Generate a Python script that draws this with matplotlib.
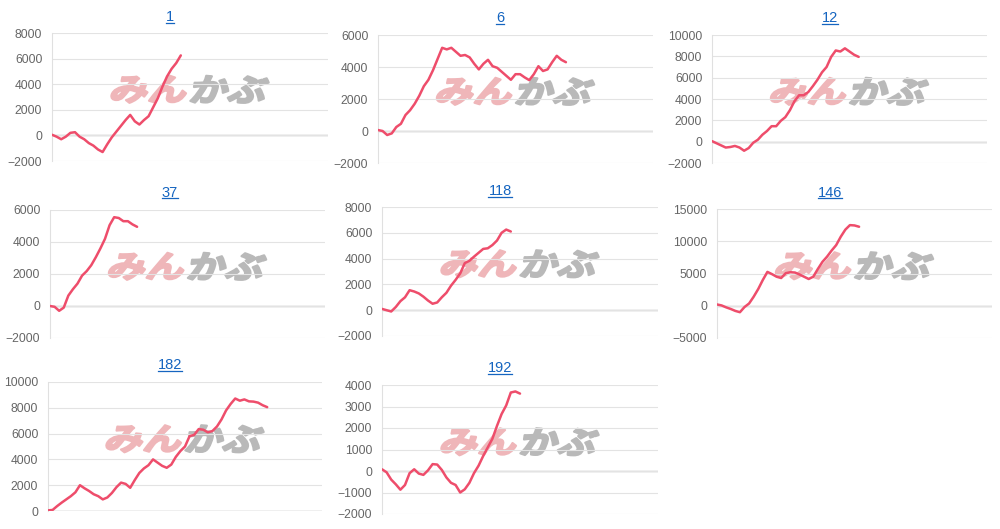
import matplotlib
matplotlib.use("Agg")
import matplotlib.pyplot as plt
from matplotlib.textpath import TextPath
from matplotlib.patches import PathPatch
from matplotlib.font_manager import FontProperties
from matplotlib.transforms import Affine2D, IdentityTransform
from matplotlib.lines import Line2D

# Chart titles (ranking numbers)
titles = ["1", "6", "12", "37", "118", "146", "182", "192"]

# Cumulative profit per chart, one value per day
s1 = [50, -100, -300, -100, 200, 250, -100, -300, -600, -800, -1100, -1300, -700, -150,
      300, 750, 1200, 1600, 1100, 850, 1200, 1500, 2200, 2900, 3800, 4600, 5200, 5650, 6250]
s6 = [60, 0, -250, -150, 250, 450, 1000, 1300, 1700, 2200, 2800, 3200, 3800, 4500, 5200,
      5100, 5200, 4950, 4700, 4750, 4600, 4200, 3850, 4200, 4450, 4050, 3950, 3700, 3450,
      3200, 3550, 3550, 3350, 3180, 3550, 4050, 3750, 3850, 4300, 4700, 4450, 4300]
s12 = [50, -150, -350, -550, -500, -400, -550, -850, -600, -100, 180, 650, 1000, 1450,
       1450, 1950, 2300, 2950, 3800, 4350, 4350, 4650, 5200, 5800, 6500, 7000, 7950, 8550,
       8450, 8750, 8450, 8150, 7950]
s37 = [0, -50, -300, -100, 650, 1050, 1400, 1900, 2180, 2550, 3050, 3600, 4200, 5050,
       5550, 5500, 5300, 5300, 5100, 4950]
s118 = [100, 0, -100, 250, 700, 1000, 1550, 1450, 1300, 1050, 750, 500, 600, 1000, 1350,
        1900, 2350, 2850, 3650, 3830, 4150, 4450, 4750, 4800, 5050, 5400, 6000, 6250, 6100]
s146 = [200, 50, -250, -500, -800, -1000, -200, 350, 1400, 2600, 4000, 5250, 4900, 4500,
        4300, 5050, 5200, 5150, 4850, 4500, 4150, 4500, 5700, 6800, 7600, 8550, 9400,
        10700, 11800, 12500, 12450, 12250]
s182 = [50, 80, 380, 650, 900, 1150, 1450, 2000, 1760, 1550, 1300, 1150, 900, 1050, 1400,
        1850, 2200, 2100, 1800, 2400, 2950, 3300, 3550, 4000, 3750, 3500, 3350, 3600, 4200,
        4650, 5000, 5800, 5900, 6350, 6300, 6100, 6200, 6550, 7100, 7800, 8300, 8720, 8550,
        8650, 8500, 8480, 8400, 8200, 8050]
s192 = [80, -60, -400, -620, -870, -650, -100, 80, -120, -180, 30, 320, 300, 50, -300,
        -550, -650, -1000, -850, -550, -100, 250, 700, 1100, 1500, 2100, 2650, 3050, 3650,
        3700, 3600]
series = [s1, s6, s12, s37, s118, s146, s182, s192]

# y axis range and tick step for each chart
y_ranges = [(-2000, 8000, 2000), (-2000, 6000, 2000), (-2000, 10000, 2000),
            (-2000, 6000, 2000), (-2000, 8000, 2000), (-5000, 15000, 5000),
            (0, 10000, 2000), (-2000, 4000, 1000)]
X_DAYS = 60

# Plot boxes in pixels: left, top, right, bottom
W, H = 1000, 529
boxes = [(52, 33, 328, 161), (378, 35, 653, 163), (712, 35, 987, 163),
         (50, 210, 325, 338), (382, 207, 658, 336), (717, 209, 992, 338),
         (48, 382, 322, 511), (382, 385, 658, 514)]
title_y = [17, 18, 18, 193, 191, 193, 365, 368]

LINE_COLOR = "#ee4d6b"
TEXT_FONT = "Liberation Sans"

fig = plt.figure(figsize=(W / 100, H / 100), dpi=100)
fig.patch.set_facecolor("white")

logo_font = FontProperties(family="Noto Sans CJK JP", weight="bold")


def draw_logo(ax, cx, cy):
    # watermark: pink "みん" + gray "かぶ", slanted and heavy
    parts = [("みん", "#efb6b9", -40), ("かぶ", "#b9b9b9", 40)]
    for txt, col, dx in parts:
        tp = TextPath((0, 0), txt, size=1, prop=logo_font)
        ext = tp.get_extents()
        sx = 74 / ext.width
        sy = 27 / ext.height
        trans = (Affine2D().translate(-ext.x0 - ext.width / 2, -ext.y0 - ext.height / 2)
                 .scale(sx, sy).skew_deg(14, 0).translate(cx + dx, cy))
        patch = PathPatch(tp, facecolor=col, edgecolor=col, lw=1.6, transform=trans,
                          zorder=1.5, joinstyle="round")
        ax.add_artist(patch)


title_texts = []
for i, (vals, box, (y0, y1, step)) in enumerate(zip(series, boxes, y_ranges)):
    l, t, r, b = box
    ax = fig.add_axes([l / W, 1 - b / H, (r - l) / W, (b - t) / H])
    ax.set_facecolor("none")
    ax.plot(range(len(vals)), vals, color=LINE_COLOR, lw=1.8, zorder=3,
            solid_joinstyle="round", solid_capstyle="round")
    ax.set_xlim(0, X_DAYS)
    ax.set_ylim(y0, y1)
    ax.set_yticks(range(y0, y1 + 1, step))
    ax.set_xticks([])
    ax.grid(axis="y", color="#e3e3e3", lw=0.8, zorder=0)
    ax.axhline(0, color="#b4b4b4", lw=1.0, zorder=1)
    for side in ["top", "right", "bottom"]:
        ax.spines[side].set_visible(False)
    ax.spines["left"].set_color("#e0e0e0")
    ax.spines["left"].set_linewidth(0.8)
    ax.tick_params(axis="y", length=0, pad=7, labelsize=8.7, labelcolor="#666666")
    for lab in ax.get_yticklabels():
        lab.set_fontfamily(TEXT_FONT)

    # logo in the middle of the plot
    draw_logo(ax, (l + r) / 2, H - (t + 0.44 * (b - t)))

    col = i % 3
    tt = fig.text((170 + 330 * col) / W, 1 - title_y[i] / H, titles[i],
                  ha="center", va="center", fontsize=10.5, color="#1565c0",
                  family=TEXT_FONT)
    title_texts.append(tt)

# underline the titles like links
fig.canvas.draw()
renderer = fig.canvas.get_renderer()
for tt in title_texts:
    bb = tt.get_window_extent(renderer)
    fig.add_artist(Line2D([bb.x0, bb.x1], [bb.y0 + 1.5, bb.y0 + 1.5], color="#1565c0",
                          lw=0.9, transform=IdentityTransform()))

fig.savefig("out.png", dpi=100)
